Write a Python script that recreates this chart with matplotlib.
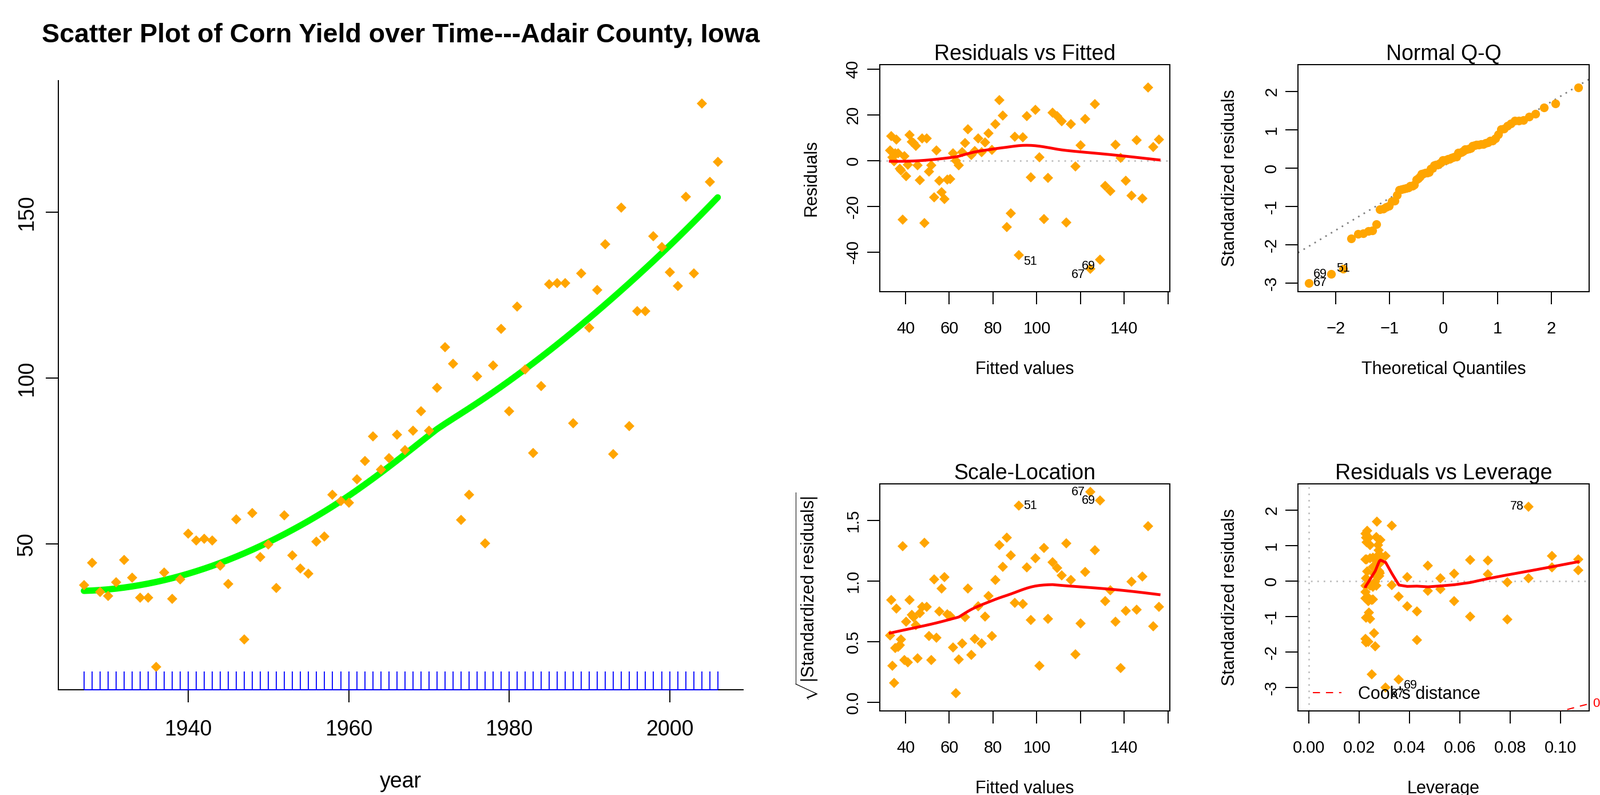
import numpy as np
import matplotlib
matplotlib.use('Agg')
import matplotlib.pyplot as plt
from matplotlib.lines import Line2D
from statistics import NormalDist

plt.rcParams['font.family'] = ['Liberation Sans', 'DejaVu Sans']
plt.rcParams['mathtext.fontset'] = 'custom'
plt.rcParams['mathtext.rm'] = 'Liberation Sans'
plt.rcParams['mathtext.it'] = 'Liberation Sans:italic'

# corn yield (bu/acre), Adair County, Iowa
years = np.arange(1927, 2007)
yields = np.array([
    37.6, 44.3, 35.5, 34.3, 38.4, 45.2, 39.8, 33.8, 33.8, 12.9,
    41.4, 33.4, 39.4, 53.1, 51.0, 51.5, 51.0, 43.5, 38.0, 57.4,
    21.3, 59.4, 46.0, 49.9, 36.8, 58.6, 46.5, 42.7, 41.0, 50.7,
    52.3, 64.9, 62.9, 62.4, 69.5, 75.0, 82.5, 72.5, 75.9, 83.0,
    78.4, 84.2, 90.0, 84.2, 97.2, 109.4, 104.3, 57.3, 64.9, 100.5,
    50.2, 103.9, 114.9, 90.0, 121.6, 102.6, 77.5, 97.7, 128.3, 128.7,
    128.7, 86.4, 131.7, 115.3, 126.6, 140.4, 77.1, 151.4, 85.5, 120.3,
    120.3, 142.9, 139.6, 132.0, 127.9, 154.7, 131.7, 182.9, 159.3, 165.2])

resid_ids = [51, 67, 69]     # labelled points in plots 1-3
cook_ids = [78, 67, 69]      # labelled points in the leverage plot
qq_label_rank = [0, 0, 1]    # where R put the Q-Q labels
cook_levels = [0.5, 1.0]

ORANGE = '#FFA500'
W, H = 2797, 1390


def box(l, t, r, b):
    return [l / W, 1 - b / H, (r - l) / W, (b - t) / H]


def r_lim(lo, hi):
    d = (hi - lo) * 0.04
    return lo - d, hi + d


def extendrange(lo, hi, f=0.08):
    d = (hi - lo) * f
    return lo - d, hi + d


def lowess(x, y, f=2 / 3, it=3):
    o = np.argsort(x, kind='mergesort')
    x = np.asarray(x, float)[o]
    y = np.asarray(y, float)[o]
    n = len(x)
    ns = max(min(int(f * n + 1e-7), n), 2)
    rw = np.ones(n)
    ys = np.zeros(n)
    for k in range(it + 1):
        for i in range(n):
            d = np.abs(x - x[i])
            h = max(np.sort(d)[ns - 1], 1e-12)
            w = np.where(d <= 0.999 * h, (1 - (d / h) ** 3) ** 3, 0.0)
            w[d <= 0.001 * h] = 1.0
            w = w * rw
            if w.sum() <= 0:
                ys[i] = y[i]
                continue
            w = w / w.sum()
            xm = (w * x).sum()
            c = (w * (x - xm) ** 2).sum()
            if np.sqrt(c) > 0.001 * (x[-1] - x[0]):
                w = w * ((x[i] - xm) / c * (x - xm) + 1)
            ys[i] = (w * y).sum()
        if k == it:
            break
        r = y - ys
        cmad = 6 * np.median(np.abs(r))
        if cmad < 1e-7:
            break
        u = r / cmad
        rw = np.where(np.abs(u) < 1, (1 - u ** 2) ** 2, 0.0)
    return x, ys


def loess2(x, y, span=0.9):
    # local quadratic fit with tricube weights
    x = np.asarray(x, float)
    y = np.asarray(y, float)
    q = int(np.floor(len(x) * span))
    out = np.zeros(len(x))
    for i, x0 in enumerate(x):
        d = np.abs(x - x0)
        h = np.sort(d)[q - 1]
        w = np.clip(1 - (d / h) ** 3, 0, None) ** 3
        A = np.column_stack([np.ones_like(x), x - x0, (x - x0) ** 2])
        sw = np.sqrt(w)
        out[i] = np.linalg.lstsq(A * sw[:, None], y * sw, rcond=None)[0][0]
    return out


# quadratic trend fit + diagnostics
n = len(years)
p = 3
xc = years - years.mean()
X = np.column_stack([np.ones(n), xc, xc ** 2])
Q, R = np.linalg.qr(X)
beta = np.linalg.solve(R, Q.T @ yields)
fitted = X @ beta
res = yields - fitted
hat = (Q ** 2).sum(axis=1)
s = np.sqrt((res ** 2).sum() / (n - p))
rs = res / (s * np.sqrt(1 - hat))
sqrt_abs = np.sqrt(np.abs(rs))

smooth = loess2(years, yields)

fig = plt.figure(figsize=(W / 100, H / 100), dpi=100)

# ---------------- left: scatter over time ----------------
ax0 = fig.add_axes(box(102.4, 141.3, 1299, 1205.7))
ax0.plot(years, smooth, color='#00FF00', lw=8, solid_capstyle='round', zorder=2)
ax0.plot(years, yields, 'D', color=ORANGE, ms=9, mew=0, zorder=3)
ax0.vlines(years, 0, 0.03, transform=ax0.get_xaxis_transform(), color='blue',
           lw=1.3, zorder=4, clip_on=False)
ax0.hlines(0, years[0], years[-1], transform=ax0.get_xaxis_transform(),
           color='blue', lw=1.4, zorder=4, clip_on=False)
ax0.set_xlim(*r_lim(years.min(), years.max()))
ax0.set_ylim(*r_lim(yields.min(), yields.max()))
ax0.spines['top'].set_visible(False)
ax0.spines['right'].set_visible(False)
for sp in ax0.spines.values():
    sp.set_linewidth(1.4)
ax0.set_xticks([1940, 1960, 1980, 2000])
ax0.set_yticks([50, 100, 150], ['50', '100', '150'], rotation=90, va='center')
ax0.tick_params(direction='out', length=16, width=1.4, labelsize=27)
ax0.tick_params(axis='x', pad=21.5)
ax0.tick_params(axis='y', pad=11)
ax0.set_xlabel('year', fontsize=27)
ax0.xaxis.set_label_coords(0.5, -0.1349)
fig.text(700.7 / W, 1 - 74 / H,
         'Scatter Plot of Corn Yield over Time---Adair County, Iowa',
         ha='center', va='baseline', fontsize=33.5, fontweight='bold')


def style(ax, title, xlabel, ylabel):
    ax.set_title(title, fontsize=27, pad=1.5)
    ax.set_xlabel(xlabel, fontsize=22)
    ax.xaxis.set_label_coords(0.5, -0.307)
    ax.set_ylabel(ylabel, fontsize=22)
    ax.yaxis.set_label_coords(-0.205, 0.5)
    ax.tick_params(direction='out', length=15.5, width=1.4, labelsize=21)
    ax.tick_params(axis='x', pad=21.5)
    ax.tick_params(axis='y', pad=7.6)
    for sp in ax.spines.values():
        sp.set_linewidth(1.4)


def label_ids(ax, xs, ys, ids, shift_neg=True):
    mid = (xs.min() + xs.max()) / 2
    for i in ids:
        xv, yv = xs[i - 1], ys[i - 1]
        dy = -8 if (shift_neg and yv < 0) else 0
        if xv > mid:
            ax.annotate(str(i), (xv, yv), xytext=(-6, dy), textcoords='offset points',
                        ha='right', va='center', fontsize=15.5, annotation_clip=False)
        else:
            ax.annotate(str(i), (xv, yv), xytext=(6, dy), textcoords='offset points',
                        ha='left', va='center', fontsize=15.5, annotation_clip=False)


fit_ticks = [40, 60, 80, 100, 120, 140, 160]
fit_labels = ['40', '60', '80', '100', '', '140', '']

# ---------------- Residuals vs Fitted ----------------
ax1 = fig.add_axes(box(1537.5, 112.6, 2045, 509.6))
ax1.axhline(0, color='#BEBEBE', ls=(0, (1, 3)), lw=2, zorder=1)
ax1.plot(fitted, res, 'D', color=ORANGE, ms=9, mew=0, zorder=2)
lx, ly = lowess(fitted, res)
ax1.plot(lx, ly, color='red', lw=3.5, zorder=3)
ax1.set_xlim(*r_lim(fitted.min(), fitted.max()))
ax1.set_ylim(*r_lim(*extendrange(res.min(), res.max())))
ax1.set_xticks(fit_ticks, fit_labels)
ax1.set_yticks([-40, -20, 0, 20, 40], ['-40', '-20', '0', '20', '40'],
               rotation=90, va='center')
style(ax1, 'Residuals vs Fitted', 'Fitted values', 'Residuals')
label_ids(ax1, fitted, res, resid_ids)

# ---------------- Normal Q-Q ----------------
ax2 = fig.add_axes(box(2269.2, 112.6, 2777.5, 509.6))
qx = np.array([NormalDist().inv_cdf((i - 0.5) / n) for i in range(1, n + 1)])
qy = np.sort(rs)
q1, q3 = np.percentile(rs, [25, 75])
z1, z3 = NormalDist().inv_cdf(0.25), NormalDist().inv_cdf(0.75)
slope = (q3 - q1) / (z3 - z1)
icpt = q1 - slope * z1
ylo, yhi = rs.min(), rs.max()
yhi = yhi + (yhi - ylo) * 0.075
ax2.set_xlim(*r_lim(qx.min(), qx.max()))
ax2.set_ylim(*r_lim(ylo, yhi))
ax2.axline((0, icpt), slope=slope, color='#7F7F7F', ls=(0, (1, 3)), lw=2, zorder=1)
ax2.plot(qx, qy, 'o', color=ORANGE, ms=11, mew=0, zorder=2)
for k, i in enumerate([67, 69, 51]):
    ax2.annotate(str(i), (qx[qq_label_rank[k]], rs[i - 1]), xytext=(6, 0),
                 textcoords='offset points', ha='left', va='center', fontsize=15.5)
ax2.set_xticks([-2, -1, 0, 1, 2])
ax2.set_yticks([-3, -2, -1, 0, 1, 2], ['-3', '-2', '-1', '0', '1', '2'],
               rotation=90, va='center')
style(ax2, 'Normal Q-Q', 'Theoretical Quantiles', 'Standardized residuals')

# ---------------- Scale-Location ----------------
ax3 = fig.add_axes(box(1537.5, 845.7, 2045, 1242.5))
ax3.plot(fitted, sqrt_abs, 'D', color=ORANGE, ms=9, mew=0, zorder=2)
lx, ly = lowess(fitted, sqrt_abs)
ax3.plot(lx, ly, color='red', lw=3.5, zorder=3)
ax3.set_xlim(*r_lim(fitted.min(), fitted.max()))
ax3.set_ylim(*r_lim(0, sqrt_abs.max()))
ax3.set_xticks(fit_ticks, fit_labels)
ax3.set_yticks([0, 0.5, 1.0, 1.5], ['0.0', '0.5', '1.0', '1.5'],
               rotation=90, va='center')
style(ax3, 'Scale-Location', 'Fitted values',
      r'$\sqrt{|\mathrm{Standardized\ residuals}|}$')
label_ids(ax3, fitted, sqrt_abs, resid_ids, shift_neg=False)

# ---------------- Residuals vs Leverage ----------------
ax4 = fig.add_axes(box(2269.2, 845.7, 2777.5, 1242.5))
xl = r_lim(0, hat.max())
yl = r_lim(*extendrange(rs.min(), rs.max()))
ax4.set_xlim(*xl)
ax4.set_ylim(*yl)
ax4.axhline(0, color='#BEBEBE', ls=(0, (1, 3)), lw=2, zorder=1)
ax4.axvline(0, color='#BEBEBE', ls=(0, (1, 3)), lw=2, zorder=1)
ax4.plot(hat, rs, 'D', color=ORANGE, ms=9, mew=0, zorder=2)
lx, ly = lowess(hat, rs)
ax4.plot(lx, ly, color='red', lw=3.5, zorder=3)
hs = np.sort(hat)
hh = np.linspace(min(hs[0], hs[1] / 100), xl[1], 101)
for crit in cook_levels:
    cl = np.sqrt(crit * p * (1 - hh) / hh)
    ax4.plot(hh, cl, color='red', ls='--', dashes=(6, 5), lw=1.5, zorder=3)
    ax4.plot(hh, -cl, color='red', ls='--', dashes=(6, 5), lw=1.5, zorder=3)
ymult = np.sqrt(p * (1 - xl[1]) / xl[1])
for crit in cook_levels:
    for yv in (-np.sqrt(crit) * ymult, np.sqrt(crit) * ymult):
        if yl[0] <= yv <= yl[1]:
            ax4.annotate('%g' % crit, (1, yv), xycoords=('axes fraction', 'data'),
                         xytext=(5, 0), textcoords='offset points', color='red',
                         ha='left', va='center', fontsize=16, annotation_clip=False)
ax4.set_xticks([0, 0.02, 0.04, 0.06, 0.08, 0.10],
               ['0.00', '0.02', '0.04', '0.06', '0.08', '0.10'])
ax4.set_yticks([-3, -2, -1, 0, 1, 2], ['-3', '-2', '-1', '0', '1', '2'],
               rotation=90, va='center')
style(ax4, 'Residuals vs Leverage', 'Leverage', 'Standardized residuals')
label_ids(ax4, hat, rs, cook_ids)
cook_handle = Line2D([], [], color='red', ls='--', dashes=(6, 5), lw=1.5)
ax4.legend([cook_handle], ["Cook's distance"], loc='lower left',
           bbox_to_anchor=(0.051, 0.0345), borderaxespad=0, borderpad=0,
           frameon=False, fontsize=22, handlelength=1.64, handletextpad=0.95)

fig.savefig('out.png', dpi=100)
